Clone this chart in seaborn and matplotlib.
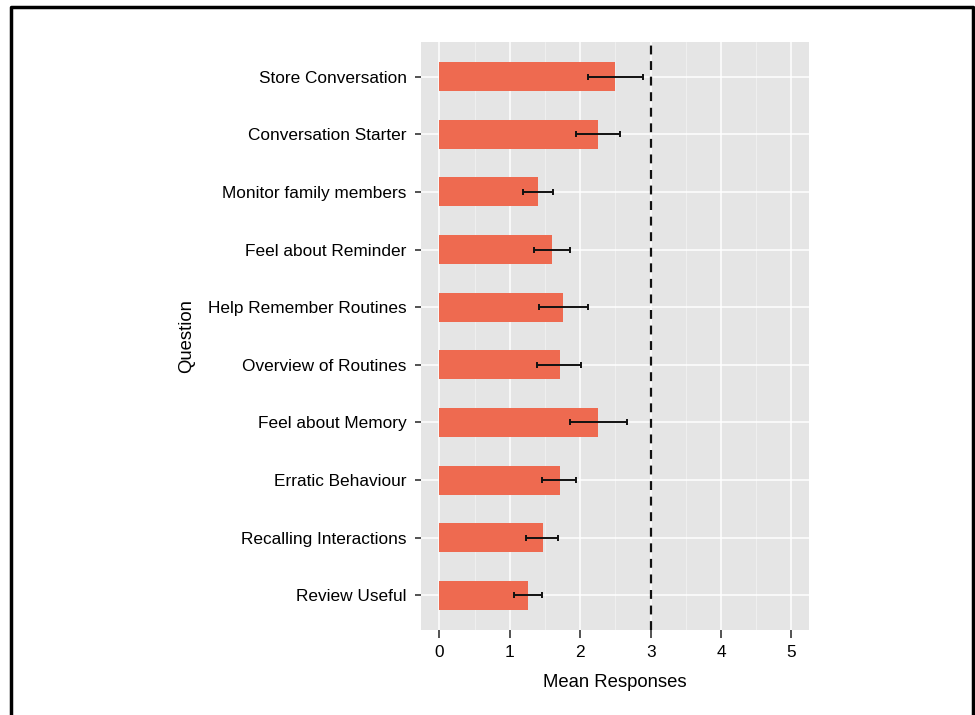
import matplotlib
matplotlib.use("Agg")
import matplotlib.pyplot as plt
from matplotlib.lines import Line2D
import seaborn as sns
import pandas as pd
import numpy as np

questions = [
    "Store Conversation",
    "Conversation Starter",
    "Monitor family members",
    "Feel about Reminder",
    "Help Remember Routines",
    "Overview of Routines",
    "Feel about Memory",
    "Erratic Behaviour",
    "Recalling Interactions",
    "Review Useful",
]
means = [2.50, 2.26, 1.40, 1.60, 1.75, 1.71, 2.26, 1.71, 1.47, 1.26]
err_low = [2.11, 1.94, 1.19, 1.34, 1.41, 1.39, 1.85, 1.46, 1.23, 1.06]
err_high = [2.89, 2.56, 1.61, 1.85, 2.11, 2.01, 2.66, 1.94, 1.68, 1.46]
x_ticks = [0, 1, 2, 3, 4, 5]
neutral = 3

df = pd.DataFrame({"Question": questions, "Mean": means})

sns.set_theme(style="darkgrid")
plt.rcParams["font.family"] = ["Liberation Sans", "DejaVu Sans"]

fig = plt.figure(figsize=(9.75, 7.15), dpi=100)
ax = fig.add_axes([0.4318, 0.1189, 0.3980, 0.8224])
ax.set_facecolor("#E5E5E5")

sns.barplot(data=df, y="Question", x="Mean", order=questions, color="#EE6A50",
            saturation=1, width=0.5, orient="h", ax=ax, errorbar=None,
            linewidth=0, zorder=2)

ypos = np.arange(len(questions))
m = np.array(means)
xerr = np.vstack([m - np.array(err_low), np.array(err_high) - m])
ax.errorbar(m, ypos, xerr=xerr, fmt="none", ecolor="#111111", elinewidth=1.4,
            capsize=2.5, capthick=1.4, zorder=3)

ax.axvline(neutral, color="#111111", linestyle=(0, (4, 3)), linewidth=1.6, zorder=4)

ax.set_xlim(-0.26, 5.25)
ax.set_ylim(len(questions) - 0.4, -0.6)
ax.set_xticks(x_ticks)
ax.set_xticks(np.arange(0.5, 5.5, 1), minor=True)
ax.grid(which="major", color="white", linewidth=1.1, zorder=0)
ax.grid(which="minor", axis="x", color="#F2F2F2", linewidth=0.6, zorder=0)
ax.set_axisbelow(True)
for s in ax.spines.values():
    s.set_visible(False)

ax.tick_params(axis="both", which="major", bottom=True, left=True,
               width=1.3, color="#444444", labelsize=12.4, labelcolor="black")
ax.tick_params(axis="x", which="major", length=5.5, pad=5.5)
ax.tick_params(axis="y", which="major", length=4.3, pad=6)
ax.tick_params(axis="both", which="minor", length=0)
ax.set_xlabel("Mean Responses", fontsize=13.3, color="black", labelpad=10)
ax.set_ylabel("Question", fontsize=13.3, color="black", labelpad=9)

# frame drawn around the figure (open at the bottom)
fig.add_artist(Line2D([11 / 975, 11 / 975, 973 / 975, 973 / 975],
                      [0, 1 - 7 / 715, 1 - 7 / 715, 0],
                      transform=fig.transFigure, color="black", linewidth=2.5))

fig.savefig("out.png", dpi=100, facecolor="white")
